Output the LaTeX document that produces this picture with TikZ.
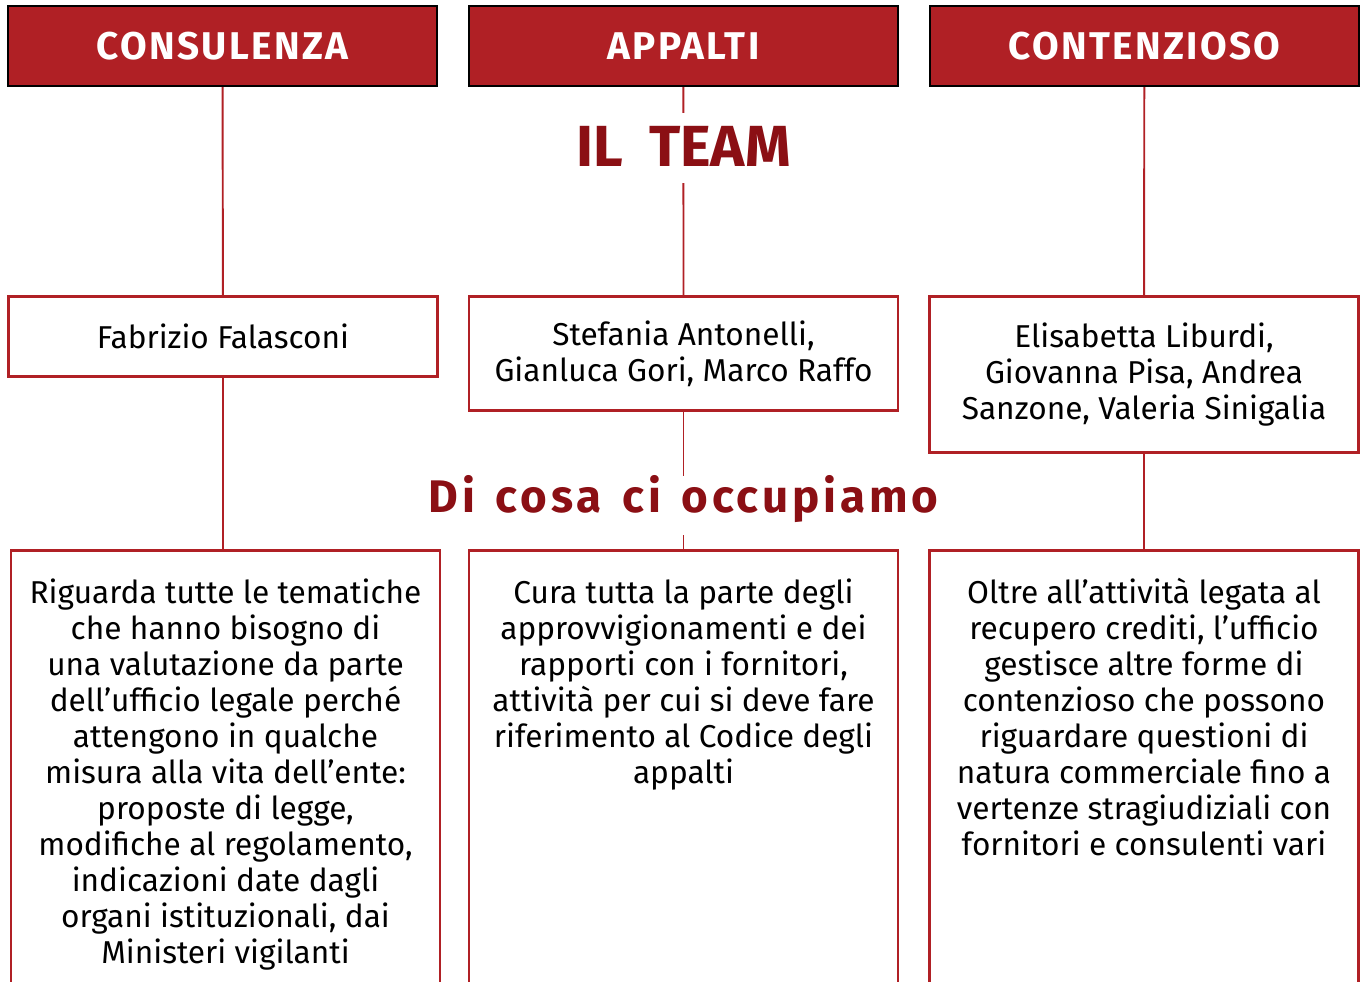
\documentclass[tikz,border=0pt]{standalone}
\usepackage{fontspec}
\setmainfont{Fira Sans}
\usetikzlibrary{positioning}
\definecolor{teamred}{HTML}{B02025}
\definecolor{titlered}{HTML}{8B0F14}

\begin{document}
\begin{tikzpicture}[x=0.02cm, y=-0.02cm, node distance=9.22cm, align=center,
    head/.style={draw=black, line width=1.2pt, fill=teamred, text=white,
        minimum width=8.58cm, minimum height=1.6cm,
        font=\fontsize{22}{26}\selectfont\bfseries\addfontfeature{LetterSpace=6}},
    member/.style={draw=teamred, line width=1.6pt, fill=white, anchor=north,
        minimum width=8.58cm, font=\fontsize{18}{20.5}\selectfont},
    task/.style={draw=teamred, line width=1.6pt, anchor=north,
        minimum width=8.58cm, minimum height=11cm},
    tasktext/.style={inner sep=0pt, font=\fontsize{18}{20.5}\selectfont},
    link/.style={draw=teamred, line width=1.1pt},
    title/.style={fill=white, text=titlered, inner sep=0pt, anchor=base}]
    \useasboundingbox (0,0) rectangle (1365,982);
    \clip (0,0) rectangle (1365,982);

    % headers
    \node(consHead)                      at (222.5,46) [head] {CONSULENZA};
    \node(appHead)  [head, right of=consHead]          {APPALTI};
    \node(contHead) [head, right of=appHead]           {CONTENZIOSO};

    % team
    \node(consTeam) [member, minimum height=1.6cm]  at (223,295)    {Fabrizio Falasconi};
    \node(appTeam)  [member, minimum height=2.28cm] at (683.5,295)  {Stefania Antonelli,\\Gianluca Gori, Marco Raffo};
    \node(contTeam) [member, minimum height=3.12cm] at (1144,295)   {Elisabetta Liburdi,\\Giovanna Pisa, Andrea\\Sanzone, Valeria Sinigalia};

    % tasks
    \node(consTask) [task] at (225.5,549) {};
    \node(appTask)  [task] at (683.5,549) {};
    \node(contTask) [task] at (1144,549)  {};

    \node(consText) [tasktext, below=0.58cm of consTask.north] {Riguarda tutte le tematiche\\che hanno bisogno di\\una valutazione da parte\\dell’ufficio legale perché\\attengono in qualche\\misura alla vita dell’ente:\\proposte di legge,\\modifiche al regolamento,\\indicazioni date dagli\\organi istituzionali, dai\\Ministeri vigilanti};
    \node(appText)  [tasktext, below=0.58cm of appTask.north]  {Cura tutta la parte degli\\approvvigionamenti e dei\\rapporti con i fornitori,\\attività per cui si deve fare\\riferimento al Codice degli\\appalti};
    \node(contText) [tasktext, below=0.58cm of contTask.north] {Oltre all’attività legata al\\recupero crediti, l’ufficio\\gestisce altre forme di\\contenzioso che possono\\riguardare questioni di\\natura commerciale fino a\\vertenze stragiudiziali con\\fornitori e consulenti vari};

    % links
    \draw [link] (consHead) to (consTeam);
    \draw [link] (appHead)  to (appTeam);
    \draw [link] (contHead) to (contTeam);
    \draw [link] (consTeam.south) to (consTeam.south |- consTask.north);
    \draw [link] (appTeam)  to (appTask);
    \draw [link] (contTeam) to (contTask);

    % titles
    \node(team)  [title, text height=1.08cm, text depth=0.32cm, font=\fontsize{33}{36}\selectfont\bfseries] at (683.5,167) {IL\hspace{0.45em}TEAM};
    \node(tasks) [title, text height=0.74cm, text depth=0.44cm, font=\fontsize{26}{30}\selectfont\bfseries\addfontfeature{LetterSpace=8.5}] at (683.5,513) {Di\hspace{0.45em}cosa\hspace{0.45em}ci\hspace{0.45em}occupiamo};
\end{tikzpicture}
\end{document}
